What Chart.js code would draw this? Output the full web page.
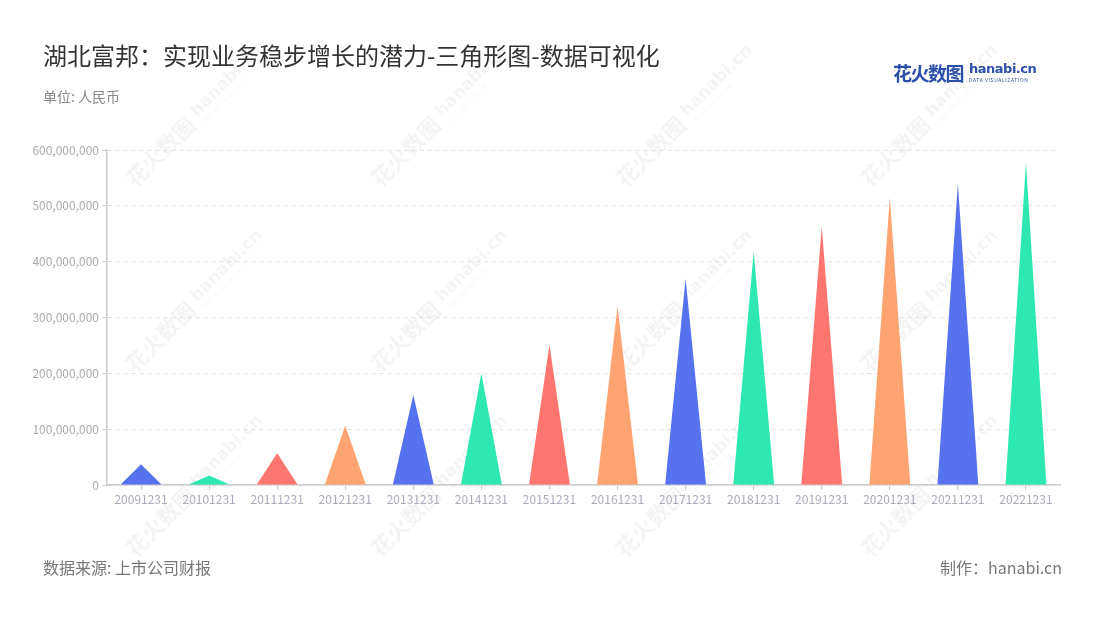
<!DOCTYPE html>
<html>
<head>
<meta charset="utf-8">
<script src="https://cdn.jsdelivr.net/npm/chart.js@4.4.1/dist/chart.umd.min.js"></script>
<style>
  body { margin: 0; background: #fff; font-family: "Noto Sans CJK SC", "Noto Sans", sans-serif; }
  #wrap { position: relative; width: 1100px; height: 620px; overflow: hidden; }
  #myChart { position: absolute; left: 0; top: 0; }
  .title { position: absolute; left: 43px; top: 37px; font-size: 24px; color: #333; }
  .unit { position: absolute; left: 43px; top: 86px; font-size: 14px; color: #888; }
  .src { position: absolute; left: 43px; top: 555px; font-size: 16px; color: #777; }
  .made { position: absolute; right: 38px; top: 555px; font-size: 16px; color: #777; }
  .logo { position: absolute; left: 893px; top: 59px; color: #2c4fa9; white-space: nowrap; }
  .logo .cn { font-size: 19px; font-weight: 700; letter-spacing: -1.5px; vertical-align: top; }
  .logo .en { display: inline-block; vertical-align: top; margin-left: 6px; line-height: 1; }
  .logo .en b { display: block; font-family: "DejaVu Sans", sans-serif; font-size: 13px; font-weight: 700; letter-spacing: -0.5px; margin-top: 3px; }
  .logo .en i { display: block; font-style: normal; font-size: 5px; letter-spacing: 0.6px; margin-top: 2px; }
</style>
</head>
<body>
<div id="wrap">
  <canvas id="myChart" width="1100" height="620"></canvas>
  <div class="title">湖北富邦：实现业务稳步增长的潜力-三角形图-数据可视化</div>
  <div class="unit">单位: 人民币</div>
  <div class="logo"><span class="cn">花火数图</span><span class="en"><b>hanabi.cn</b><i>DATA VISUALIZATION</i></span></div>
  <div class="src">数据来源: 上市公司财报</div>
  <div class="made">制作：hanabi.cn</div>
</div>
<script>
const years = ['20091231', '20101231', '20111231', '20121231', '20131231', '20141231', '20151231',
               '20161231', '20171231', '20181231', '20191231', '20201231', '20211231', '20221231'];
const revenue = [37000000, 17000000, 57000000, 106000000, 161000000, 200000000, 251000000,
                 320000000, 370000000, 418000000, 463000000, 515000000, 540000000, 578000000];
const palette = ['#5672ee', '#2ee8b1', '#ff7671', '#ffa370'];
const yTicks = [0, 100000000, 200000000, 300000000, 400000000, 500000000, 600000000];

const colors = years.map((_, i) => palette[i % palette.length]);

// faint diagonal watermark behind the chart
const watermark = {
    id: 'watermark',
    beforeDraw(chart) {
        const c = chart.ctx;
        c.save();
        c.fillStyle = 'rgba(0,0,0,0.045)';
        [112, 297, 482].forEach(y => {
            [200, 445, 690, 935].forEach(x => {
                c.save();
                c.translate(x, y);
                c.rotate(-Math.PI / 4);
                c.font = 'bold 22px "Noto Sans CJK SC"';
                c.textBaseline = 'middle';
                c.fillText('花火数图', -100, 0);
                c.font = 'bold 17px "DejaVu Sans"';
                c.fillText('hanabi.cn', -6, -3);
                c.font = '5px "DejaVu Sans"';
                c.fillText('DATA VISUALIZATION', -4, 10);
                c.restore();
            });
        });
        c.restore();
    }
};

// turn each bar into a triangle
const triangles = {
    id: 'triangles',
    afterDatasetsDraw(chart) {
        const c = chart.ctx;
        chart.getDatasetMeta(0).data.forEach((bar, i) => {
            const p = bar.getProps(['x', 'y', 'base', 'width'], true);
            c.beginPath();
            c.moveTo(p.x - p.width / 2, p.base);
            c.lineTo(p.x, p.y);
            c.lineTo(p.x + p.width / 2, p.base);
            c.closePath();
            c.fillStyle = colors[i];
            c.fill();
        });
    }
};

const ctx = document.getElementById('myChart').getContext('2d');
const myChart = new Chart(ctx, {
    type: 'bar',
    data: {
        labels: years,
        datasets: [{
            data: revenue,
            backgroundColor: 'rgba(0,0,0,0)',
            barPercentage: 0.6,
            categoryPercentage: 1
        }]
    },
    options: {
        responsive: false,
        animation: false,
        layout: { padding: { top: 150, right: 40, bottom: 105, left: 0 } },
        plugins: { legend: { display: false }, tooltip: { enabled: false } },
        scales: {
            x: {
                afterFit(s) { s.height = 30; },
                grid: { offset: false, drawOnChartArea: false, tickLength: 5, color: '#ccc' },
                border: { color: '#ccc', width: 1.5 },
                ticks: { color: '#aab', font: { family: 'Noto Sans CJK SC', size: 12 }, padding: 2, maxRotation: 0, autoSkip: false }
            },
            y: {
                min: 0,
                max: 600000000,
                afterFit(s) { s.width = 107; },
                afterBuildTicks(s) { s.ticks = yTicks.map(v => ({ value: v })); },
                grid: { color: '#e0e0e0', tickColor: '#ccc', tickLength: 5, tickBorderDash: [] },
                border: { color: '#ccc', width: 1.5, dash: [4, 4] },
                ticks: {
                    color: '#aaa',
                    font: { family: 'Noto Sans CJK SC', size: 12 },
                    padding: 3,
                    callback: v => v.toLocaleString('en-US')
                }
            }
        }
    },
    plugins: [watermark, triangles]
});
</script>
</body>
</html>
